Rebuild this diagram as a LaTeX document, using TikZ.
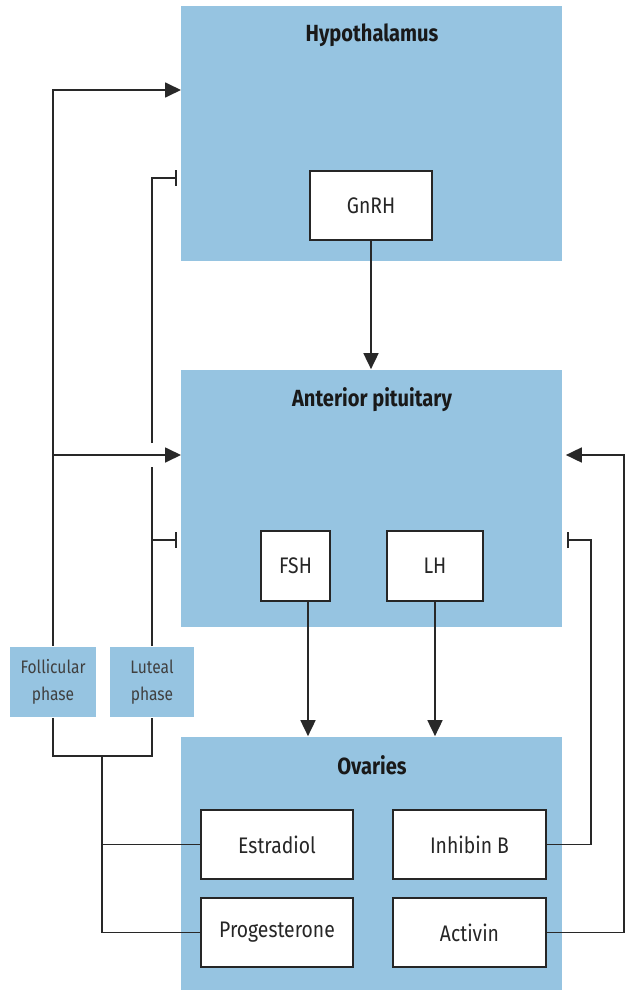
\documentclass[tikz,border=0pt]{standalone}
\usepackage{fontspec}
\setmainfont{Fira Sans}[FakeStretch=0.86]
\usetikzlibrary{arrows.meta}

\definecolor{boxblue}{RGB}{150,196,225}
\definecolor{linegrey}{RGB}{40,40,40}

\begin{document}
\begin{tikzpicture}[x=0.02cm, y=-0.02cm, line width=1pt,
		organ/.style={fill=boxblue, draw=none, inner sep=0pt},
		hormone/.style={draw=black!85, fill=white, line width=1.2pt, inner sep=0pt, minimum height=1.38cm, font=\fontsize{12.8}{14}\selectfont, text=black!85},
		phase/.style={fill=boxblue, inner sep=0pt, minimum height=1.4cm, align=center, font=\fontsize{10.3}{15}\selectfont, text=black!75},
		title/.style={font=\bfseries\fontsize{13.3}{14}\selectfont, text=black!90},
		stim/.style={draw=linegrey, -{Triangle[length=0.32cm, width=0.3cm]}},
		inhib/.style={draw=linegrey, -{Bar[width=0.32cm]}, shorten >=0.08cm}]
			\useasboundingbox (0,0) rectangle (625,990);
			
			% organs
			\node[organ, minimum width=7.62cm, minimum height=5.1cm] (hyp) at (371.5,133.5) {};
			\node[organ, minimum width=7.62cm, minimum height=5.14cm] (pit) at (371.5,498.5) {};
			\node[organ, minimum width=7.62cm, minimum height=5.06cm] (ova) at (371.5,863.5) {};
			\node[title] (hyptitle) at (372,35) {Hypothalamus};
			\node[title] (pittitle) at (372,400) {Anterior pituitary};
			\node[title] (ovatitle) at (372,765) {Ovaries};
			
			% hormones
			\node[hormone, minimum width=2.44cm] (gnrh) at (371,205.5) {GnRH};
			\node[hormone, minimum width=1.38cm, minimum height=1.4cm] (fsh) at (295.5,566) {FSH};
			\node[hormone, minimum width=1.92cm, minimum height=1.4cm] (lh) at (435,566) {LH};
			\node[hormone, minimum width=3.04cm] (estr) at (277,844.5) {Estradiol};
			\node[hormone, minimum width=3.06cm] (inh) at (469.5,844.5) {Inhibin B};
			\node[hormone, minimum width=3.04cm] (prog) at (277,932.5) {Progesterone};
			\node[hormone, minimum width=3.06cm] (act) at (469.5,932.5) {Activin};
			
			% cycle phases
			\node[phase, minimum width=1.72cm] (foll) at (53,682) {Follicular\\phase};
			\node[phase, minimum width=1.68cm] (lut) at (152,682) {Luteal\\phase};
			
			\coordinate (hypin) at (181,90);
			\coordinate (hypinh) at (181,178);
			\coordinate (pitin) at (181,455);
			\coordinate (pitinh) at (181,540);
			\coordinate (gapA) at (152,443);
			\coordinate (gapB) at (152,467);
			\coordinate (join) at (102,756);
			\coordinate (inhup) at (591,540);
			\coordinate (actup) at (624,455);
			
			% axis
			\draw[stim] (gnrh) -- (gnrh |- pit.north);
			\draw[stim] ([xshift=0.25cm]fsh.south) -- ([xshift=0.25cm]fsh.south |- ova.north);
			\draw[stim] (lh) -- (lh |- ova.north);
			
			% feedback
			\draw[stim] (foll) |- (hypin);
			\draw[stim] (foll |- pitin) -- (pitin);
			\draw[draw=linegrey] (lut) -- (gapB);
			\draw[inhib] (gapA) |- (hypinh);
			\draw[inhib] (lut |- pitinh) -- (pitinh);
			\draw[draw=linegrey] (foll.south) |- (join) -| (lut.south);
			\draw[draw=linegrey] (join) |- (prog.west);
			\draw[draw=linegrey] (estr.west) -- (estr.west -| join);
			\draw[inhib] (inh.east) -| (inhup) -- (inhup -| pit.east);
			\draw[stim] (act.east) -| (actup) -- ([xshift=0.06cm]actup -| pit.east);
		\end{tikzpicture}
\end{document}
